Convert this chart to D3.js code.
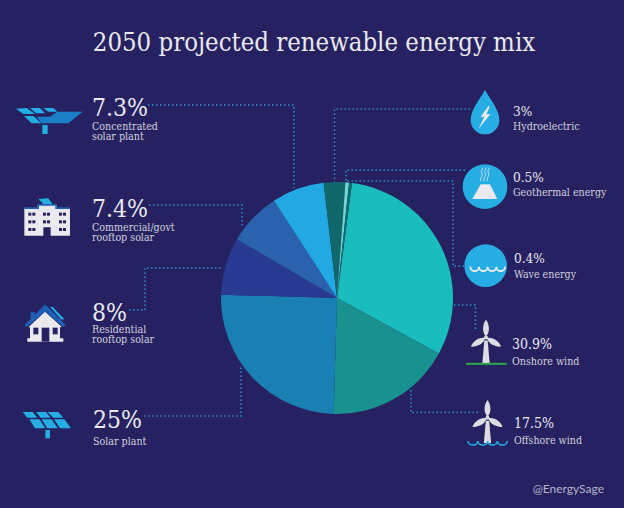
<!DOCTYPE html>
<html><head><meta charset="utf-8">
<script src="https://cdn.jsdelivr.net/npm/d3@7"></script>
<style>html,body{margin:0;padding:0;background:#262261}svg{display:block}</style>
</head><body><div id="c"></div>
<script>
const categories=["Onshore wind","Offshore wind","Solar plant","Residential rooftop solar","Commercial/govt rooftop solar","Concentrated solar plant","Hydroelectric","Geothermal energy","Wave energy"];
const values=[30.9,17.5,25,8,7.4,7.3,3,0.5,0.4];
const valueLabels=["30.9%","17.5%","25%","8%","7.4%","7.3%","3%","0.5%","0.4%"];
const subLines=[["Onshore wind"],["Offshore wind"],["Solar plant"],["Residential","rooftop solar"],["Commercial/govt","rooftop solar"],["Concentrated","solar plant"],["Hydroelectric"],["Geothermal energy"],["Wave energy"]];
const sliceColors=["#19bdbe","#18918f","#1a80b4","#283a92","#2a62ad","#22a8e2","#10686a","#6fd6d6","#0f6f70"];
const W=624,H=508;
const svg=d3.select("#c").append("svg").attr("width",W).attr("height",H);
svg.append("rect").attr("width",W).attr("height",H).attr("fill","#262261");
const SERIF="'DejaVu Serif Condensed','DejaVu Serif',serif",TXT="#e9e9ee",SUB="#cfcfdc",DOT="#2a93cf",LIGHT="#26ade4",WHITE="#e9e9ee",BG="#262261",ROOF="#1f5fb5";
svg.append("text").attr("x",314).attr("y",51).attr("text-anchor","middle").attr("fill",TXT)
 .style("font",`25.5px ${SERIF}`).text("2050 projected renewable energy mix");
const cx=337,cy=298,R=116,start=7.4*Math.PI/180;
const pie=d3.pie().sort(null).startAngle(start).endAngle(start+2*Math.PI);
const arc=d3.arc().innerRadius(0).outerRadius(R);
svg.append("g").attr("transform",`translate(${cx},${cy})`).selectAll("path").data(pie(values)).join("path")
 .attr("d",arc).attr("fill",(d,i)=>sliceColors[i]);
// leaders
const leaders=[[[454,305],[475.5,305],[475.5,330]],[[411,390],[411,412.5],[479,412.5]],[[144,416],[241,416],[241,366]],[[129,310],[145,310],[145,268],[223,268]],[[149,205],[242,205],[242,228]],[[148,105],[294,105],[294,188]],[[470,109],[334.5,109],[334.5,182]],[[465,170],[346,170],[346,183]],[[464,266],[453,266],[453,181],[346,181]]];
svg.append("g").selectAll("path").data(leaders).join("path").attr("d",d3.line()).attr("fill","none")
 .attr("stroke",DOT).attr("stroke-width",1.5).attr("stroke-dasharray","1.5 2.5");
// labels: x, value baseline, first sub-label baseline, value font size
const labelPos=[[512,348.5,364.5,14],[514,427.5,443.5,14],[93,428,444.5,24.5],[92,320.5,332.5,24.5],[92,216.5,230.5,24.5],[92,115.5,129.5,24.5],[513,115.5,130,13.5],[513,182,196,13.5],[514,263,277.5,13.5]];
categories.forEach((c,i)=>{const [x,y,y2,fs]=labelPos[i];
 svg.append("text").attr("x",x).attr("y",y).attr("fill",TXT).style("font",`${fs}px ${SERIF}`).text(valueLabels[i]);
 subLines[i].forEach((s,j)=>svg.append("text").attr("x",x).attr("y",y2+j*10.7).attr("fill",SUB).style("font",`10.6px ${SERIF}`).text(s));
});
svg.append("text").attr("x",604).attr("y",493).attr("text-anchor","end").attr("fill","#b4b4c8").style("font","12px Lato,sans-serif").text("@EnergySage");

// decorative icons, drawn in 3x units
const icon=(ox,oy)=>svg.append("g").attr("transform",`translate(${ox},${oy}) scale(${1/3})`);
const poly=(g,p,f)=>g.append("polygon").attr("points",p).attr("fill",f);
const rect=(g,x,y,w,h,f)=>g.append("rect").attr("x",x).attr("y",y).attr("width",w).attr("height",h).attr("fill",f);
// concentrated
let g=icon(0,80);
poly(g,"172,95 248,95 205,130 125,130 110,110 150,110",'#1b7fc8');
poly(g,"48,86 80,84 105,102 70,102",LIGHT);poly(g,"90,84 120,84 135,100 108,100",LIGHT);poly(g,"130,84 160,84 172,95 145,95",LIGHT);
poly(g,"72,108 100,108 124,130 95,130",LIGHT);
rect(g,127,135,16,27,LIGHT);
// solar plant
g=icon(10,295);
["38,351 68,351 82,368 52,368","78,351 108,351 122,368 92,368","113,351 145,351 160,368 130,368","58,373 88,373 106,400 75,400","95,373 125,373 143,400 112,400","132,373 163,373 183,400 150,400"].forEach(p=>poly(g,p,LIGHT));
rect(g,106,405,14,25,LIGHT);
// building
g=icon(10,95);
poly(g,"43,340 83,340 83,330 140,330 140,340 180,340 180,422 122,422 122,397 100,397 100,422 43,422",WHITE);
poly(g,"43,337 83,337 83,327 140,327 140,337 180,337 180,342 136,342 136,332 87,332 87,342 43,342",ROOF);
poly(g,"85,312 115,310 127,327 100,327",LIGHT);
[[55,353],[99,353],[147,353],[55,376],[99,376],[147,376],[55,399],[147,399]].forEach(([x,y])=>{rect(g,x,y,9,9,BG);rect(g,x+12,y,9,9,BG);});
// house
g=icon(10,295);
poly(g,"105,50 155,95 150,97 150,130 160,130 160,140 52,140 52,130 60,130 60,97 55,97",WHITE);
poly(g,"43,90 62,72 62,52 75,52 75,60 105,28 168,90 160,96 105,50 50,96",ROOF);
poly(g,"120,36 128,36 163,72 155,74",LIGHT);
rect(g,70,98,15,20,BG);rect(g,128,98,15,20,BG);rect(g,95,98,23,42,BG);
// drop
g=icon(455,85);
g.append("path").attr("d","M90,15C70,50 47,75 47,105A43,43 0 0 0 133,105C133,75 110,50 90,15Z").attr("fill",LIGHT);
poly(g,"101,62 77,95 88,95 71,131 106,88 94,88 104,66",WHITE);
// geothermal
g=icon(455,85);
g.append("circle").attr("cx",90).attr("cy",305).attr("r",67).attr("fill",LIGHT);
poly(g,"52,342 127,342 105,298 77,298",WHITE);
[80,90,100].forEach(x=>g.append("path").attr("d",`M${x-2},288c-6,-10 8,-14 2,-24c-4,-6 2,-10 4,-16`).attr("fill","none").attr("stroke",WHITE).attr("stroke-width",2.5));
// wave
g=icon(455,235);
g.append("circle").attr("cx",92).attr("cy",92).attr("r",64).attr("fill",LIGHT);
g.append("path").attr("d","M46,95a13,13 0 0 0 26,0a13,13 0 0 0 26,0a13,13 0 0 0 26,0a13,13 0 0 0 26,0").attr("fill","none").attr("stroke",WHITE).attr("stroke-width",5.5);
// turbines
const TURB="#dcdce2";
function turbine(hx,hy,base){
 const t=svg.append("g").attr("transform",`translate(${hx},${hy}) scale(${1/3})`);
 const blade="M0,-3C-13,-16 -10,-40 0,-53C10,-40 13,-16 0,-3Z";
 [0,121,-121].forEach(a=>t.append("path").attr("d",blade).attr("transform",`rotate(${a})`).attr("fill",TURB));
 poly(t,`-5,9 5,9 11,${base} -11,${base}`,TURB);
 t.append("circle").attr("r",6).attr("fill",TURB);
 return t;
}
turbine(486,337.5,78).append("rect").attr("x",-60).attr("y",76).attr("width",122).attr("height",6).attr("fill","#2aa84a");
turbine(487.5,417.7,76);
svg.append("path").attr("transform","translate(468,441)").attr("d","M0,0a4.9,4 0 0 0 9.8,0a4.9,4 0 0 0 9.8,0a4.9,4 0 0 0 9.8,0a4.9,4 0 0 0 9.8,0").attr("fill","none").attr("stroke",LIGHT).attr("stroke-width",1.6);
</script></body></html>
